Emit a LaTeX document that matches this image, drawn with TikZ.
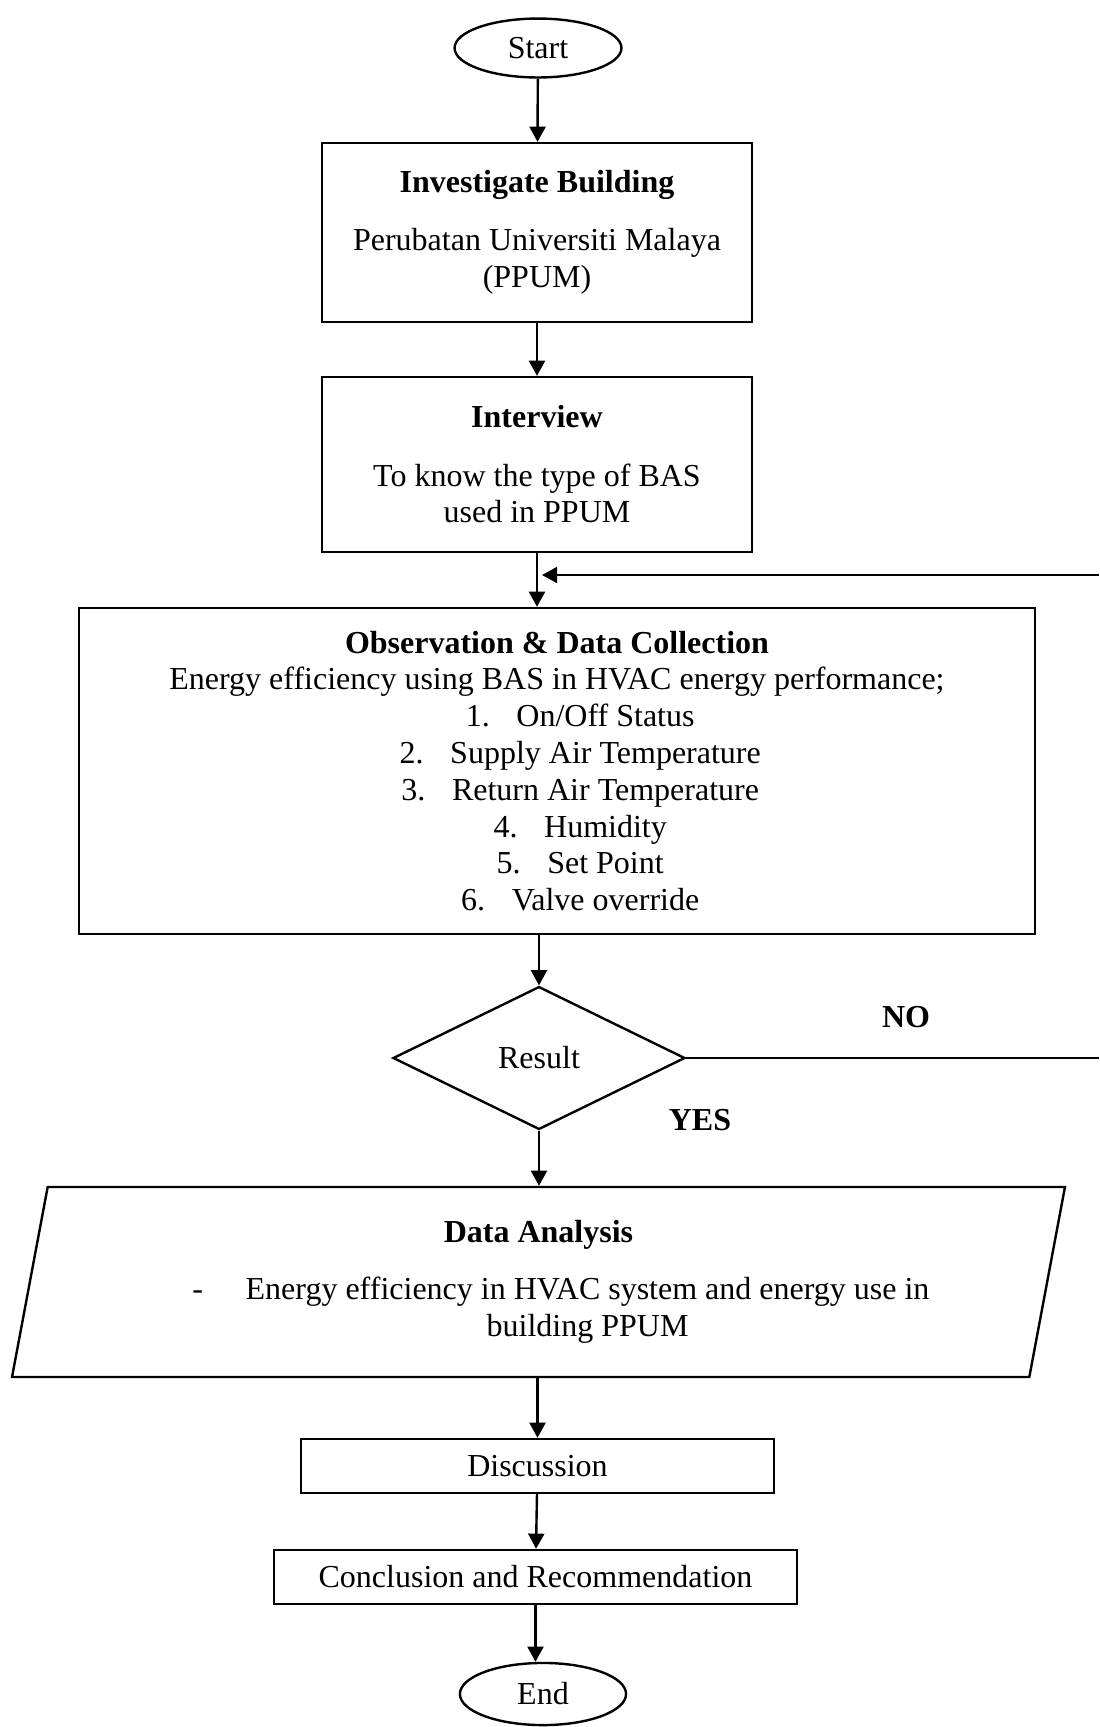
\documentclass[tikz,border=0pt]{standalone}
\usepackage{fontspec}
\setmainfont{Liberation Serif}
\usetikzlibrary{shapes.geometric,arrows.meta}

\begin{document}
\begin{tikzpicture}[x=0.375pt, y=-0.375pt, line width=0.9pt,
  font=\fontsize{12}{13.8}\selectfont,
  box/.style={draw, rectangle, align=center, inner sep=0pt},
  term/.style={draw, ellipse, inner sep=0pt},
  decision/.style={draw, diamond, inner sep=0pt},
  io/.style={draw, trapezium, trapezium left angle=77, trapezium right angle=103,
    trapezium stretches=true, inner sep=0pt, align=center},
  lbl/.style={font=\fontsize{12}{13.8}\selectfont\bfseries},
  arr/.style={-{Triangle[length=5.7pt,width=6pt]}}]
\useasboundingbox (0,0) rectangle (1099,1727);

\node[term, minimum width=62.6pt, minimum height=22.1pt] (start) at (538,48) {Start};
\node[box, minimum width=161.25pt, minimum height=67.1pt] (inv) at (537,232.5)
  {\textbf{Investigate Building}\\[8pt] Perubatan Universiti Malaya\\ (PPUM)};
\node[box, minimum width=161.25pt, minimum height=65.6pt] (intv) at (537,464.5)
  {\textbf{Interview}\\[8pt] To know the type of BAS\\ used in PPUM};
\node[box, minimum width=358.5pt, minimum height=122.25pt] (obs) at (557,771)
  {\textbf{Observation \& Data Collection}\\
   Energy efficiency using BAS in HVAC energy performance;\\
   \hspace*{17.4pt}1.\hspace{10pt}On/Off Status\\
   \hspace*{17.4pt}2.\hspace{10pt}Supply Air Temperature\\
   \hspace*{17.4pt}3.\hspace{10pt}Return Air Temperature\\
   \hspace*{17.4pt}4.\hspace{10pt}Humidity\\
   \hspace*{17.4pt}5.\hspace{10pt}Set Point\\
   \hspace*{17.4pt}6.\hspace{10pt}Valve override};
\node[decision, minimum width=109.5pt, minimum height=53.6pt] (result) at (539,1058) {Result};
\node[io, minimum width=395.6pt, minimum height=71.25pt] (ana) at (538.5,1282)
  {\textbf{Data Analysis}\\[7.6pt]
   \hspace*{36.8pt}\makebox[0pt][r]{-\hspace{16pt}}Energy efficiency in HVAC system and energy use in\\
   \hspace*{36.8pt}building PPUM};
\node[box, minimum width=177.4pt, minimum height=20.25pt] (disc) at (537.5,1466) {Discussion};
\node[box, minimum width=196.1pt, minimum height=20.25pt] (conc) at (535.5,1577) {Conclusion and Recommendation};
\node[term, minimum width=62.3pt, minimum height=23.3pt] (end) at (543,1694) {End};

\node[lbl] (no) at (906,1017) {NO};
\node[lbl] (yes) at (700,1120) {YES};
\coordinate (fbout) at (1099,575);
\coordinate (fbin) at (542,575);
\coordinate (noout) at (1099,1058);

\draw[arr] (start) -- (inv);
\draw[arr] (inv) -- (intv);
\draw[arr] (intv.south) -- (intv.south |- obs.north);
\draw[arr] (fbout) -- (fbin);
\draw[arr] (result.north |- obs.south) -- (result.north);
\draw (result.east) -- (noout);
\draw[arr] (result.south) -- (result.south |- ana.north);
\draw[arr] (disc.north |- ana.south) -- (disc.north);
\draw[arr] (disc) -- (conc);
\draw[arr] (conc.south) -- (conc.south |- end.north);
\end{tikzpicture}
\end{document}
